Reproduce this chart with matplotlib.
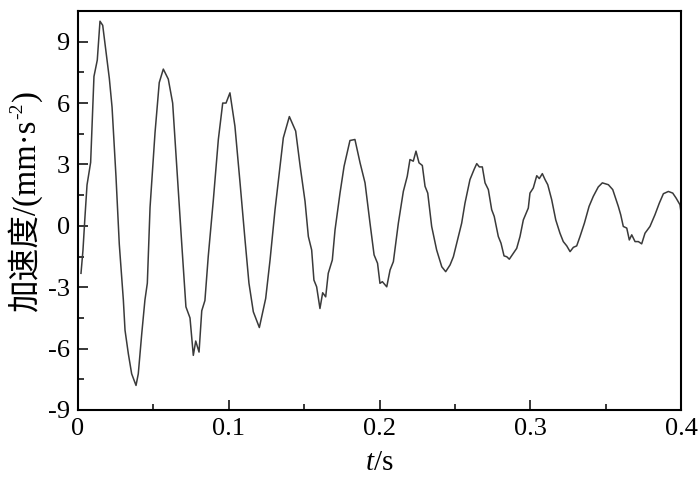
import matplotlib
matplotlib.use("Agg")
import matplotlib.pyplot as plt
from matplotlib.ticker import MultipleLocator
from matplotlib.transforms import IdentityTransform

plt.rcParams['font.family'] = ['Liberation Serif', 'Noto Sans CJK SC', 'DejaVu Sans']
plt.rcParams['axes.unicode_minus'] = False
plt.rcParams['mathtext.fontset'] = 'custom'
plt.rcParams['mathtext.rm'] = 'Liberation Serif'
plt.rcParams['mathtext.it'] = 'Liberation Serif:italic'

t = [0.0020, 0.0033, 0.0046, 0.0060, 0.0084, 0.0106, 0.0128, 0.0146, 0.0164, 0.0186,
     0.0208, 0.0226, 0.0252, 0.0274, 0.0301, 0.0312, 0.0334, 0.0356, 0.0385, 0.0400,
     0.0423, 0.0444, 0.0460, 0.0478, 0.0511, 0.0539, 0.0566, 0.0599, 0.0628, 0.0655,
     0.0688, 0.0716, 0.0743, 0.0765, 0.0781, 0.0803, 0.0821, 0.0842, 0.0864, 0.0898,
     0.0931, 0.0960, 0.0982, 0.1008, 0.1041, 0.1075, 0.1108, 0.1134, 0.1163, 0.1203,
     0.1245, 0.1274, 0.1307, 0.1340, 0.1362, 0.1402, 0.1444, 0.1473, 0.1506, 0.1528,
     0.1550, 0.1565, 0.1583, 0.1605, 0.1623, 0.1643, 0.1660, 0.1687, 0.1705, 0.1738,
     0.1765, 0.1804, 0.1837, 0.1871, 0.1904, 0.1937, 0.1964, 0.1987, 0.2003, 0.2019,
     0.2048, 0.2070, 0.2092, 0.2125, 0.2158, 0.2184, 0.2202, 0.2224, 0.2242, 0.2262,
     0.2284, 0.2302, 0.2320, 0.2346, 0.2379, 0.2413, 0.2439, 0.2468, 0.2490, 0.2512,
     0.2545, 0.2567, 0.2600, 0.2627, 0.2645, 0.2662, 0.2682, 0.2700, 0.2722, 0.2744,
     0.2761, 0.2788, 0.2806, 0.2826, 0.2844, 0.2861, 0.2888, 0.2910, 0.2932, 0.2954,
     0.2987, 0.2998, 0.3020, 0.3043, 0.3060, 0.3080, 0.3098, 0.3116, 0.3142, 0.3169,
     0.3197, 0.3219, 0.3242, 0.3264, 0.3286, 0.3308, 0.3330, 0.3359, 0.3390, 0.3418,
     0.3451, 0.3478, 0.3496, 0.3518, 0.3547, 0.3562, 0.3584, 0.3600, 0.3617, 0.3640,
     0.3657, 0.3673, 0.3695, 0.3717, 0.3739, 0.3761, 0.3794, 0.3827, 0.3856, 0.3883,
     0.3916, 0.3945, 0.3967, 0.3993, 0.4000]

accel = [-2.32, -1.20, 0.40, 2.00, 3.10, 7.30, 8.10, 10.00, 9.80, 8.48,
         7.20, 5.80, 2.42, -0.90, -3.63, -5.10, -6.25, -7.23, -7.80, -7.23,
         -5.27, -3.63, -2.80, 0.90, 4.55, 7.00, 7.66, 7.17, 6.00, 2.90,
         -0.85, -3.96, -4.50, -6.33, -5.63, -6.17, -4.15, -3.65, -1.50, 1.28,
         4.22, 6.00, 6.00, 6.50, 4.87, 2.10, -0.69, -2.80, -4.20, -4.97,
         -3.55, -1.67, 0.79, 2.91, 4.30, 5.34, 4.63, 2.95, 1.20, -0.52,
         -1.18, -2.65, -2.98, -4.04, -3.27, -3.47, -2.32, -1.67, -0.20, 1.60,
         2.91, 4.17, 4.22, 3.08, 2.10, 0.13, -1.42, -1.83, -2.81, -2.73,
         -2.98, -2.16, -1.75, 0.13, 1.68, 2.42, 3.24, 3.16, 3.65, 3.08,
         2.95, 1.93, 1.60, -0.03, -1.18, -2.00, -2.24, -1.91, -1.51, -0.85,
         0.13, 1.11, 2.26, 2.75, 3.04, 2.88, 2.88, 2.10, 1.77, 0.79,
         0.46, -0.52, -0.85, -1.47, -1.51, -1.63, -1.34, -1.10, -0.52, 0.29,
         0.87, 1.60, 1.85, 2.45, 2.31, 2.55, 2.26, 2.01, 1.28, 0.29,
         -0.36, -0.77, -0.98, -1.26, -1.05, -0.98, -0.52, 0.13, 0.95, 1.44,
         1.90, 2.10, 2.06, 2.01, 1.77, 1.44, 0.95, 0.54, -0.03, -0.11,
         -0.69, -0.44, -0.77, -0.77, -0.88, -0.36, -0.03, 0.54, 1.11, 1.57,
         1.68, 1.60, 1.36, 1.03, 0.65]

x_ticks = [0, 0.1, 0.2, 0.3, 0.4]
x_tick_labels = ['0', '0.1', '0.2', '0.3', '0.4']
y_ticks = [-9, -6, -3, 0, 3, 6, 9]
y_tick_labels = ['-9', '-6', '-3', '0', '3', '6', '9']
y_label_main = '加速度/(mm·s'
y_label_sup = '-2'
y_label_end = ')'

W, H = 700, 486
fig = plt.figure(figsize=(7.0, 4.86), dpi=100)
ax = fig.add_axes([0.1114, 0.1564, 0.8615, 0.8210])

ax.plot(t, accel, color='#3a3a3a', linewidth=1.1)

ax.set_xlim(0, 0.4)
ax.set_ylim(-9, 10.5)
ax.set_xticks(x_ticks)
ax.set_xticklabels(x_tick_labels)
ax.set_yticks(y_ticks)
ax.set_yticklabels(y_tick_labels)
ax.xaxis.set_minor_locator(MultipleLocator(0.05))
ax.yaxis.set_minor_locator(MultipleLocator(1.5))

ax.tick_params(axis='both', which='major', direction='in', length=7, width=1.1,
               labelsize=19, top=False, right=False, pad=6)
ax.tick_params(axis='both', which='minor', direction='in', length=4, width=1.1,
               top=False, right=False)
for s in ax.spines.values():
    s.set_linewidth(1.5)

ax.set_xlabel(r'$t$/s', fontsize=21, labelpad=7)

# y label assembled from pieces so the CJK glyphs keep their font fallback
fs_main = 23.5
fs_sup = 14
base_x = 35           # pixel x of the baseline
start_y = H - 312     # pixel y (from bottom) where the label starts
idt = IdentityTransform()
t1 = fig.text(base_x, start_y, y_label_main, transform=idt, rotation=90,
              rotation_mode='anchor', ha='left', va='baseline', fontsize=fs_main)
fig.canvas.draw()
r = fig.canvas.get_renderer()
bb1 = t1.get_window_extent(r)
y2 = bb1.y1 + 1
t2 = fig.text(base_x - fs_main * 100 / 72 * 0.38, y2, y_label_sup, transform=idt,
              rotation=90, rotation_mode='anchor', ha='left', va='baseline',
              fontsize=fs_sup)
fig.canvas.draw()
bb2 = t2.get_window_extent(r)
t3 = fig.text(base_x, bb2.y1 + 1, y_label_end, transform=idt, rotation=90,
              rotation_mode='anchor', ha='left', va='baseline', fontsize=fs_main)

fig.savefig('out.png', dpi=100)
